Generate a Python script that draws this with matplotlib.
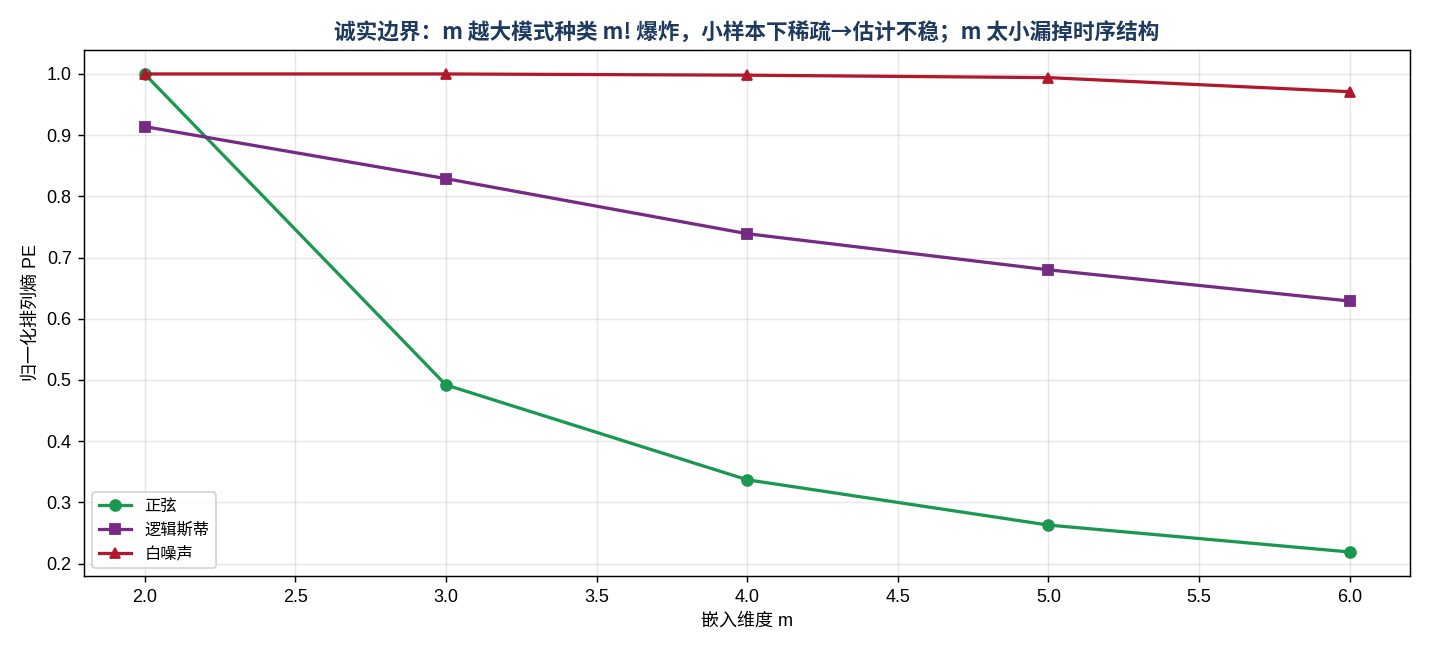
import matplotlib
matplotlib.use("Agg")
import matplotlib.pyplot as plt

plt.rcParams['font.family'] = ['Liberation Sans', 'Noto Sans CJK SC', 'DejaVu Sans']
plt.rcParams['axes.unicode_minus'] = False

m_values = [2, 3, 4, 5, 6]
pe_sine = [1.0, 0.492, 0.337, 0.263, 0.219]
pe_logistic = [0.914, 0.829, 0.739, 0.680, 0.629]
pe_noise = [1.0, 1.0, 0.998, 0.994, 0.971]

fig, ax = plt.subplots(figsize=(11, 5), dpi=130)

ax.plot(m_values, pe_sine, color='#1a9850', marker='o', linewidth=1.8, markersize=6, label='正弦')
ax.plot(m_values, pe_logistic, color='#762a83', marker='s', linewidth=1.8, markersize=6, label='逻辑斯蒂')
ax.plot(m_values, pe_noise, color='#b2182b', marker='^', linewidth=1.8, markersize=6, label='白噪声')

# the title uses the CJK font first so the arrow comes out full size
ax.set_title('诚实边界：m 越大模式种类 m! 爆炸，小样本下稀疏→估计不稳；m 太小漏掉时序结构',
             fontsize=12, fontweight='bold', color='#1f3a5f',
             family=['Noto Sans CJK SC', 'DejaVu Sans'])
ax.set_xlabel('嵌入维度 m', fontsize=10)
ax.set_ylabel('归一化排列熵 PE', fontsize=10)
ax.grid(True, alpha=0.3)
ax.legend(loc='lower left', fontsize=9)

plt.subplots_adjust(left=0.059, right=0.986, top=0.923, bottom=0.114)
plt.savefig('out.png', dpi=130)
